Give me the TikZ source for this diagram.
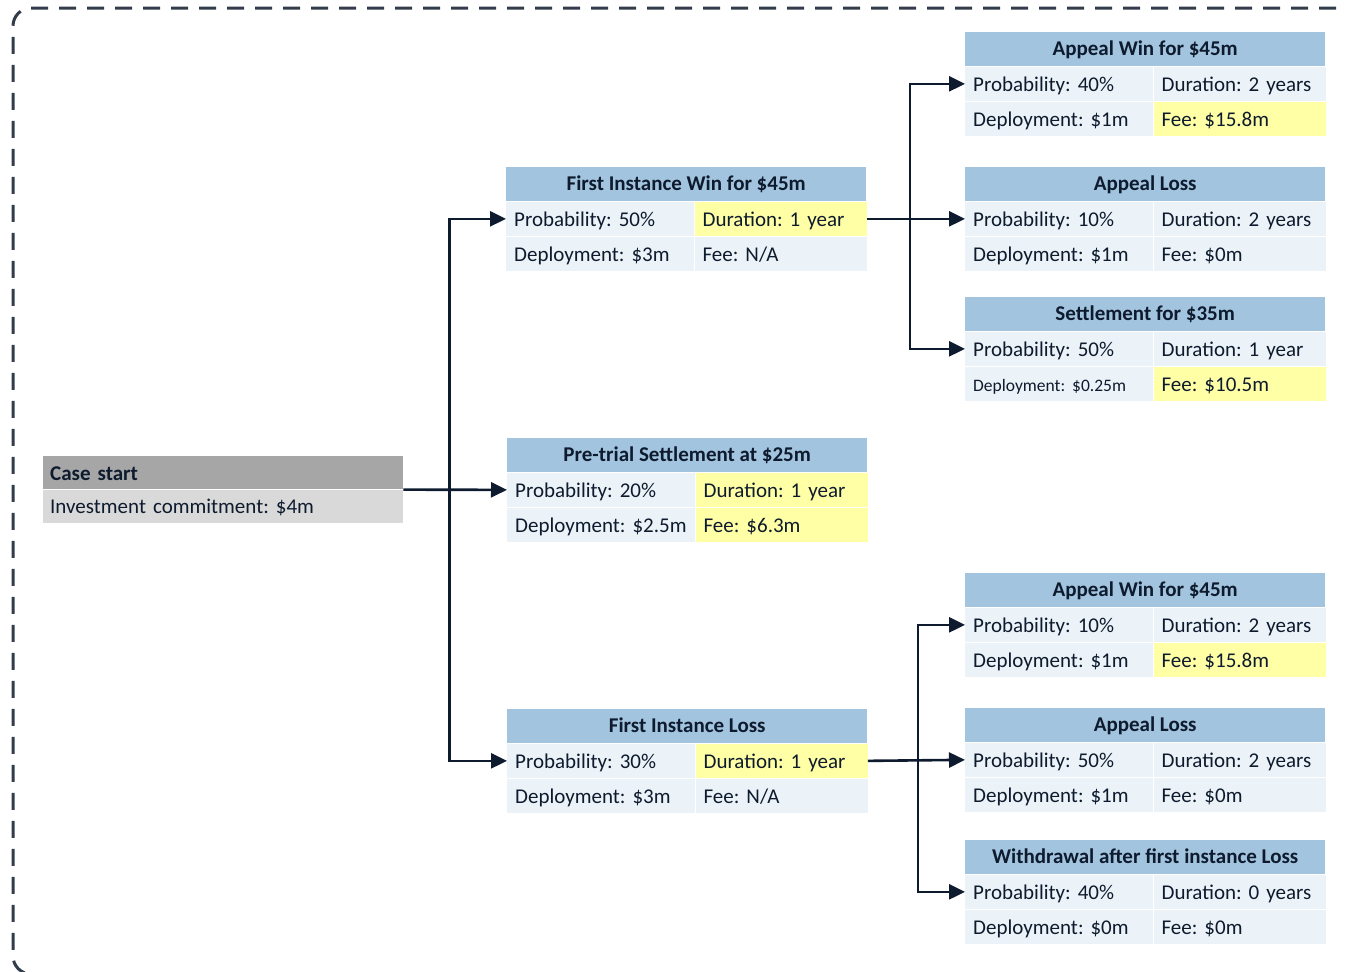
\documentclass[tikz,border=0pt]{standalone}
\usepackage{fontspec}
\setmainfont{Carlito}
\frenchspacing
\usepackage{tikz}
\usetikzlibrary{arrows.meta}
\usetikzlibrary{positioning}
\tikzset{hdr/.style = {fill=mblue, text=mnavy, anchor=north west, inner sep=0, minimum width=360pt, minimum height=34pt, text height=14pt, text depth=0.5pt, font=\fontsize{21}{25}\selectfont\bfseries}}
\tikzset{cellL/.style = {fill=mpale, text=mnavy, inner xsep=8pt, inner ysep=0, text width=172pt, minimum height=34.5pt, text height=16pt, text depth=0pt, align=left, font=\fontsize{21}{25}\selectfont}}
\tikzset{cellR/.style = {cellL, text width=156pt}}
\tikzset{link/.style = {draw=mnavy, line width=2.6pt, -{Triangle[length=16pt, width=15pt]}}}
\tikzset{frame/.style = {draw=mslate, line width=3pt, dash pattern=on 17pt off 11pt, rounded corners=18pt}}
\definecolor{mblue}{RGB}{162,196,222}
\definecolor{mpale}{RGB}{235,243,248}
\definecolor{myellow}{RGB}{255,255,166}
\definecolor{mgrey}{RGB}{166,166,166}
\definecolor{mlight}{RGB}{217,217,217}
\definecolor{mnavy}{RGB}{14,27,46}
\definecolor{mslate}{RGB}{50,60,75}
% name, top left, title, probability, duration, deployment, fee, duration fill, fee fill
\newcommand{\outcome}[9]{%
  \node [hdr] (#1-h) at (#2) {#3};
  \node [cellL, below right=0pt and 0pt of #1-h.south west] (#1-p) {\mbox{#4}};
  \node [cellR, #8, right=0pt of #1-p] (#1-d) {\mbox{#5}};
  \node [cellL, below right=0pt and 0pt of #1-p.south west] (#1-dep) {\mbox{#6}};
  \node [cellR, #9, right=0pt of #1-dep] (#1-f) {\mbox{#7}};
}

\begin{document}
\begin{tikzpicture}[x=1pt, y=-1pt]
    \useasboundingbox (0, 0) rectangle (1347, 972);
    \draw [frame] (1420, 8) -- (13, 8) -- (13, 974) -- (1420, 974);
    \node [hdr, fill=mgrey, align=left, inner xsep=7pt, text width=346pt, minimum height=33pt, text height=15pt] (case-h) at (43, 456.25) {Case start};
    \node [cellL, fill=mlight, inner xsep=7pt, text width=346pt, minimum height=33pt, text height=14.5pt, below right=0pt and 0pt of case-h.south west] (case-r) {Investment commitment: \$4m};
    \outcome{fiw}{506, 167}{First Instance Win for \$45m}{Probability: 50\%}{Duration: 1 year}{Deployment: \$3m}{Fee: N/A}{fill=myellow}{}
    \outcome{pts}{507, 438}{Pre-trial Settlement at \$25m}{Probability: 20\%}{Duration: 1 year}{Deployment: \$2.5m}{Fee: \$6.3m}{fill=myellow}{fill=myellow}
    \outcome{fil}{507, 709}{First Instance Loss}{Probability: 30\%}{Duration: 1 year}{Deployment: \$3m}{Fee: N/A}{fill=myellow}{}
    \outcome{aw1}{965, 32}{Appeal Win for \$45m}{Probability: 40\%}{Duration: 2 years}{Deployment: \$1m}{Fee: \$15.8m}{}{fill=myellow}
    \outcome{al1}{965, 167}{Appeal Loss}{Probability: 10\%}{Duration: 2 years}{Deployment: \$1m}{Fee: \$0m}{}{}
    \outcome{set}{965, 297}{Settlement for \$35m}{Probability: 50\%}{Duration: 1 year}{\fontsize{17.5}{21}\selectfont Deployment: \$0.25m}{Fee: \$10.5m}{}{fill=myellow}
    \outcome{aw2}{965, 573}{Appeal Win for \$45m}{Probability: 10\%}{Duration: 2 years}{Deployment: \$1m}{Fee: \$15.8m}{}{fill=myellow}
    \outcome{al2}{965, 708}{Appeal Loss}{Probability: 50\%}{Duration: 2 years}{Deployment: \$1m}{Fee: \$0m}{}{}
    \outcome{wd}{965, 840}{Withdrawal after first instance Loss}{Probability: 40\%}{Duration: 0 years}{Deployment: \$0m}{Fee: \$0m}{}{}
    % first branching
    \coordinate [right=46pt of case-h.south east] (j1);
    \draw [link] (case-h.south east) -- (pts-p.west);
    \draw [link] (j1) |- (fiw-p.west);
    \draw [link] (j1) |- (fil-p.west);
    % after a win
    \coordinate [right=43pt of fiw-d.east] (j2);
    \draw [link] (fiw-d.east) -- (al1-p.west);
    \draw [link] (j2) |- (aw1-p.west);
    \draw [link] (j2) |- (set-p.west);
    % after a loss
    \coordinate [right=50pt of fil-d.east] (j3);
    \draw [link] (fil-d.east) -- (al2-p.west);
    \draw [link] (j3) |- (aw2-p.west);
    \draw [link] (j3) |- (wd-p.west);
  \end{tikzpicture}
\end{document}
